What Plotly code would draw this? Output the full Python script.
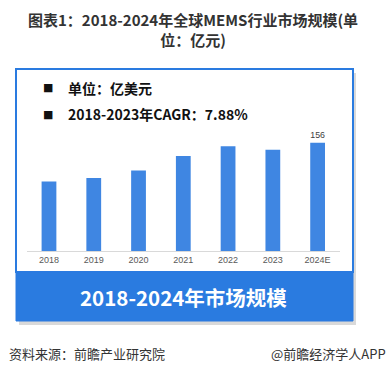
import plotly.graph_objects as go

years = ["2018", "2019", "2020", "2021", "2022", "2023", "2024E"]
values = [100, 105, 116, 137, 151, 146, 156]
labels = ["", "", "", "", "", "", "156"]

W, H = 388, 373
def px(x): return x / W
def py(y): return 1 - y / H

CJK = "Noto Sans CJK SC"
BAR = "#3f86e2"
BLUE = "#2a7be0"

fig = go.Figure()
fig.add_trace(go.Bar(
    x=years, y=values, text=labels, textposition="outside",
    textfont=dict(size=9, color="#404040", family="Liberation Sans"),
    marker=dict(color=BAR, line=dict(width=0)),
    cliponaxis=False,
))

shapes = [
    # shadow
    dict(type="rect", xref="paper", yref="paper", x0=px(19), x1=px(356), y0=py(325), y1=py(73),
         fillcolor="rgba(0,0,0,0.15)", line=dict(width=0), layer="below"),
    # white panel
    dict(type="rect", xref="paper", yref="paper", x0=px(16), x1=px(353), y0=py(272), y1=py(69),
         fillcolor="white", line=dict(color=BLUE, width=2), layer="below"),
    # banner
    dict(type="rect", xref="paper", yref="paper", x0=px(16), x1=px(353), y0=py(321), y1=py(272),
         fillcolor=BLUE, line=dict(color=BLUE, width=1), layer="below"),
]

annotations = [
    dict(text="<b>图表1：2018-2024年全球MEMS行业市场规模(单<br>位：亿元)</b>", x=px(193), y=py(29),
         xref="paper", yref="paper", showarrow=False, xanchor="center", yanchor="middle",
         font=dict(family=CJK, size=15, color="#333333"), align="center"),
    dict(text="<b>■</b>", x=px(48), y=py(88), xref="paper", yref="paper", showarrow=False,
         xanchor="center", yanchor="middle", font=dict(family="DejaVu Sans", size=11, color="#111111")),
    dict(text="<b>单位：亿美元</b>", x=px(66), y=py(88), xref="paper", yref="paper", showarrow=False,
         xanchor="left", yanchor="middle", font=dict(family=CJK, size=14, color="#111111")),
    dict(text="<b>■</b>", x=px(48), y=py(114), xref="paper", yref="paper", showarrow=False,
         xanchor="center", yanchor="middle", font=dict(family="DejaVu Sans", size=11, color="#111111")),
    dict(text="<b>2018-2023年CAGR：7.88%</b>", x=px(66), y=py(114), xref="paper", yref="paper", showarrow=False,
         xanchor="left", yanchor="middle", font=dict(family=CJK, size=14, color="#111111")),
    dict(text="<b>2018-2024年市场规模</b>", x=px(183), y=py(297), xref="paper", yref="paper", showarrow=False,
         xanchor="center", yanchor="middle", font=dict(family=CJK, size=20.5, color="white")),
    dict(text="资料来源：前瞻产业研究院", x=px(7), y=py(353), xref="paper", yref="paper", showarrow=False,
         xanchor="left", yanchor="middle", font=dict(family=CJK, size=13, color="#333333")),
    dict(text="@前瞻经济学人APP", x=px(388), y=py(353), xref="paper", yref="paper", showarrow=False,
         xanchor="right", yanchor="middle", font=dict(family=CJK, size=13, color="#333333")),
]

fig.update_layout(
    width=W, height=H, margin=dict(l=0, r=0, t=0, b=0),
    paper_bgcolor="white", plot_bgcolor="rgba(0,0,0,0)",
    showlegend=False, bargap=0.67,
    shapes=shapes, annotations=annotations,
    xaxis=dict(domain=[px(26.6), px(340)], showgrid=False, showline=True, linecolor="#d9d9d9", linewidth=1,
               ticks="", tickfont=dict(family="Liberation Sans", size=9, color="#595959"), fixedrange=True),
    yaxis=dict(domain=[py(251), py(120)], range=[0, 188.7], showgrid=False, showticklabels=False,
               zeroline=False, showline=False, fixedrange=True),
)

fig.write_html("out.html")
